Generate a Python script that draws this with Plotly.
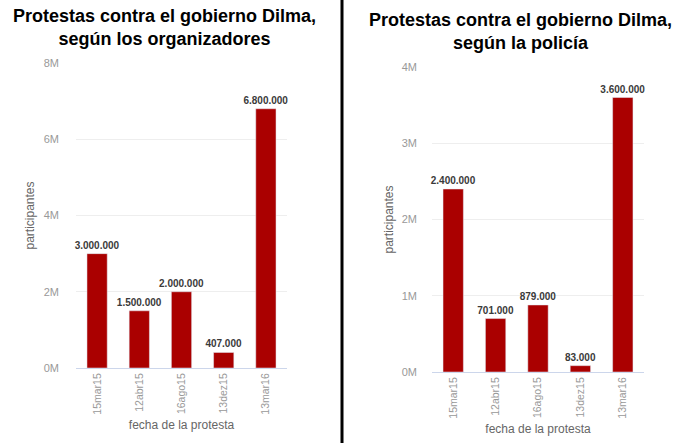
import plotly.graph_objects as go

fechas = ["15mar15", "12abr15", "16ago15", "13dez15", "13mar16"]
organizadores = [3000000, 1500000, 2000000, 407000, 6800000]
policia = [2400000, 701000, 879000, 83000, 3600000]
etiquetas_org = ["3.000.000", "1.500.000", "2.000.000", "407.000", "6.800.000"]
etiquetas_pol = ["2.400.000", "701.000", "879.000", "83.000", "3.600.000"]
ticks_org = [0, 2000000, 4000000, 6000000, 8000000]
ticks_org_txt = ["0M", "2M", "4M", "6M", "8M"]
ticks_pol = [0, 1000000, 2000000, 3000000, 4000000]
ticks_pol_txt = ["0M", "1M", "2M", "3M", "4M"]
titulo_org = "Protestas contra el gobierno Dilma,<br>según los organizadores"
titulo_pol = "Protestas contra el gobierno Dilma,<br>según la policía"

W, H = 686, 446
BAR = "#aa0000"
FONT = "Liberation Sans, Arial, sans-serif"

def px(x):
    return x / W

def py(y):
    return 1 - y / H

labelfont = dict(family=FONT, size=10, color="#3a3a3a", weight="bold")

fig = go.Figure()
fig.add_trace(go.Bar(x=fechas, y=organizadores, text=etiquetas_org, textposition="outside",
                     constraintext="none", marker_color=BAR, xaxis="x", yaxis="y",
                     cliponaxis=False, textfont=labelfont, outsidetextfont=labelfont))
fig.add_trace(go.Bar(x=fechas, y=policia, text=etiquetas_pol, textposition="outside",
                     constraintext="none", marker_color=BAR, xaxis="x2", yaxis="y2",
                     cliponaxis=False, textfont=labelfont, outsidetextfont=labelfont))

xcommon = dict(type="category", tickangle=-90, showgrid=False, showline=True,
               linecolor="#ccd6eb", linewidth=1, ticks="", automargin=False,
               tickfont=dict(family=FONT, size=10.5, color="#999999"),
               title_font=dict(family=FONT, size=12, color="#666666"),
               fixedrange=True)
ycommon = dict(showgrid=True, gridcolor="#eeeeee", gridwidth=1, zeroline=False,
               showline=False, ticks="", automargin=False,
               tickfont=dict(family=FONT, size=11, color="#999999"),
               title_font=dict(family=FONT, size=12, color="#666666"),
               fixedrange=True)

fig.update_layout(
    width=W, height=H, margin=dict(l=0, r=0, t=0, b=0, pad=0, autoexpand=False),
    paper_bgcolor="white", plot_bgcolor="white", showlegend=False,
    bargap=0.52,
    xaxis=dict(xcommon, domain=[px(76), px(287)], anchor="y",
               title=dict(text="fecha de la protesta", standoff=6)),
    yaxis=dict(ycommon, domain=[py(368), py(63)], anchor="x", range=[0, 8000000],
               tickvals=ticks_org, ticktext=ticks_org_txt, ticklabelstandoff=16,
               title=dict(text="participantes", standoff=6)),
    xaxis2=dict(xcommon, domain=[px(432), px(644)], anchor="y2",
                title=dict(text="fecha de la protesta", standoff=6)),
    yaxis2=dict(ycommon, domain=[py(372), py(67)], anchor="x2", range=[0, 4000000],
                tickvals=ticks_pol, ticktext=ticks_pol_txt, ticklabelstandoff=14,
                title=dict(text="participantes", standoff=5)),
    annotations=[
        dict(text=titulo_org, x=px(164), y=py(4), xref="paper", yref="paper",
             xanchor="center", yanchor="top", showarrow=False,
             font=dict(family=FONT, size=18, color="#000000", weight="bold")),
        dict(text=titulo_pol, x=px(520), y=py(8), xref="paper", yref="paper",
             xanchor="center", yanchor="top", showarrow=False,
             font=dict(family=FONT, size=18, color="#000000", weight="bold")),
    ],
    shapes=[dict(type="line", xref="paper", yref="paper", x0=px(342), x1=px(342),
                 y0=py(0), y1=py(443), line=dict(color="#000000", width=3))],
)

fig.write_html("out.html")
